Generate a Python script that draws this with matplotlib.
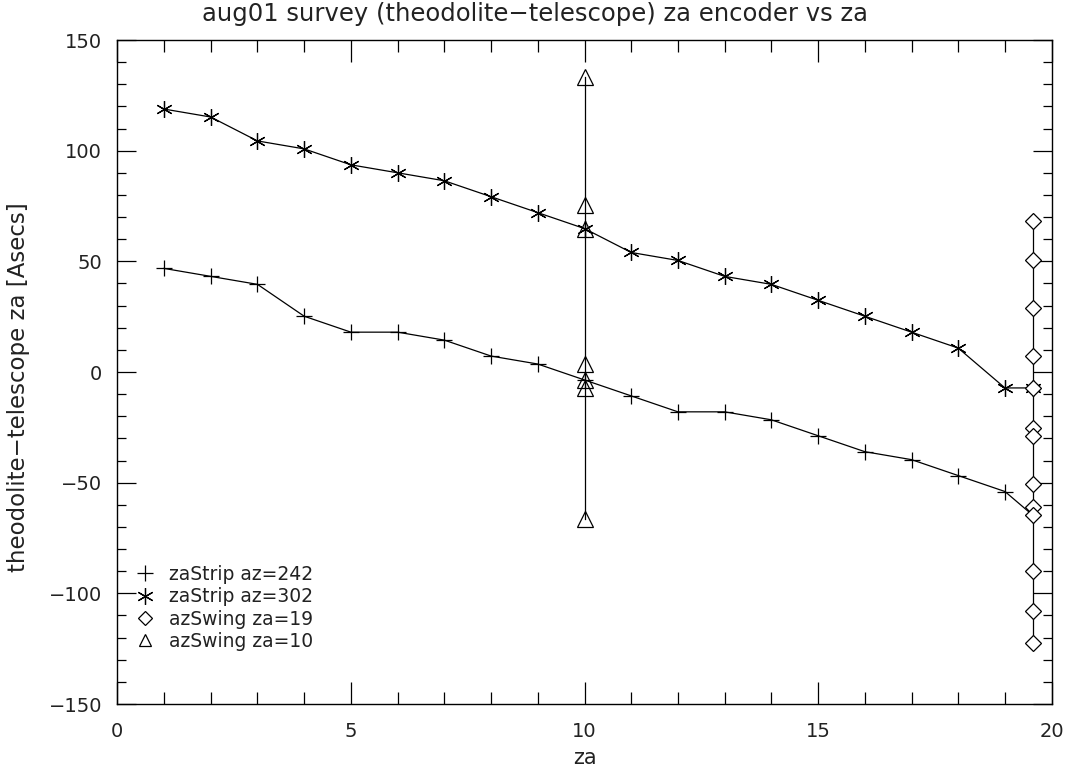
import numpy as np
import matplotlib
matplotlib.use("Agg")
import matplotlib.pyplot as plt
from matplotlib.lines import Line2D

# zaStrip az=242 (plus)
za_242 = [1, 2, 3, 4, 5, 6, 7, 8, 9, 10, 11, 12, 13, 14, 15, 16, 17, 18, 19, 19.6]
dz_242 = [46.8, 43.2, 39.6, 25.2, 18.0, 18.0, 14.4, 7.2, 3.6, -3.6, -10.8, -18.0,
          -18.0, -21.6, -28.8, -36.0, -39.6, -46.8, -54.0, -64.8]

# zaStrip az=302 (asterisk)
za_302 = [1, 2, 3, 4, 5, 6, 7, 8, 9, 10, 11, 12, 13, 14, 15, 16, 17, 18, 19, 19.6]
dz_302 = [118.8, 115.2, 104.4, 100.8, 93.6, 90.0, 86.4, 79.2, 72.0, 64.8, 54.0, 50.4,
          43.2, 39.6, 32.4, 25.2, 18.0, 10.8, -7.2, -7.2]

# azSwing za=19 (diamond)
za_sw19 = [19.6] * 13
dz_sw19 = [68.4, 50.4, 28.8, 7.2, -7.2, -25.2, -28.8, -50.4, -61.2, -64.8, -90.0, -108.0, -122.4]

# azSwing za=10 (triangle)
za_sw10 = [10, 10, 10, 10, 10, 10, 10]
dz_sw10 = [133.2, 75.6, 64.8, 3.6, -3.6, -7.2, -66.6]

labels = ["zaStrip az=242", "zaStrip az=302", "azSwing za=19", "azSwing za=10"]

plt.rcParams['font.family'] = ['DejaVu Sans']
txt = '#222222'

fig = plt.figure(figsize=(10.7, 7.74), dpi=100)
ax = fig.add_axes([117.3 / 1070, 70 / 774, (1051.7 - 117.3) / 1070, 664 / 774])

lw = 0.9
asterisk = (6, 2, 0)
ax.plot(za_242, dz_242, color='black', lw=lw, marker='+', ms=11, mew=lw)
ax.plot(za_302, dz_302, color='black', lw=lw, marker=asterisk, ms=12, mew=lw)
ax.plot(za_sw19, dz_sw19, color='black', lw=lw, marker='D', ms=8, mfc='white', mew=lw)
ax.plot(za_sw10, dz_sw10, color='black', lw=lw, marker='^', ms=11, mfc='none', mew=lw)

ax.set_xlim(0, 20)
ax.set_ylim(-150, 150)
ax.set_xticks(np.arange(0, 21, 5))
ax.set_xticks(np.arange(0, 21, 1), minor=True)
ax.set_yticks(np.arange(-150, 151, 50))
ax.set_yticks(np.arange(-150, 151, 10), minor=True)
ax.set_yticklabels([str(v).replace('-', '\u2212') for v in range(-150, 151, 50)])

ax.tick_params(axis='x', which='major', direction='in', length=16, width=0.9,
               top=True, labelsize=14, pad=13, labelcolor=txt)
ax.tick_params(axis='x', which='minor', direction='in', length=8.5, width=0.9, top=True)
ax.tick_params(axis='y', which='major', direction='in', length=13.5, width=0.9,
               right=True, labelsize=14, pad=11, labelcolor=txt)
ax.tick_params(axis='y', which='minor', direction='in', length=6.7, width=0.9, right=True)
for sp in ax.spines.values():
    sp.set_linewidth(1.0)

# IDL centres title and y label on the window, not on the plot box
fig.text(0.5, 1 - 14 / 774, "aug01 survey (theodolite\u2212telescope) za encoder vs za",
         fontsize=17.5, color=txt, ha='center', va='center')
ax.set_xlabel("za", fontsize=15, labelpad=5, color=txt)
fig.text(19 / 1070, 0.5, "theodolite\u2212telescope za [Asecs]", fontsize=16.5,
         color=txt, rotation=90, ha='center', va='center')

handles = [
    Line2D([], [], color='black', ls='none', marker='+', ms=11, mew=lw),
    Line2D([], [], color='black', ls='none', marker=asterisk, ms=12, mew=lw),
    Line2D([], [], color='black', ls='none', marker='D', ms=7, mfc='none', mew=lw),
    Line2D([], [], color='black', ls='none', marker='^', ms=9, mfc='none', mew=lw),
]
leg = ax.legend(handles, labels, loc='lower left', bbox_to_anchor=(0.006, 0.06),
                frameon=False, fontsize=13.5, handlelength=1.0, handletextpad=0.75,
                labelspacing=0.18, borderaxespad=0.3)
for t in leg.get_texts():
    t.set_color(txt)

fig.savefig("out.png", dpi=100)
